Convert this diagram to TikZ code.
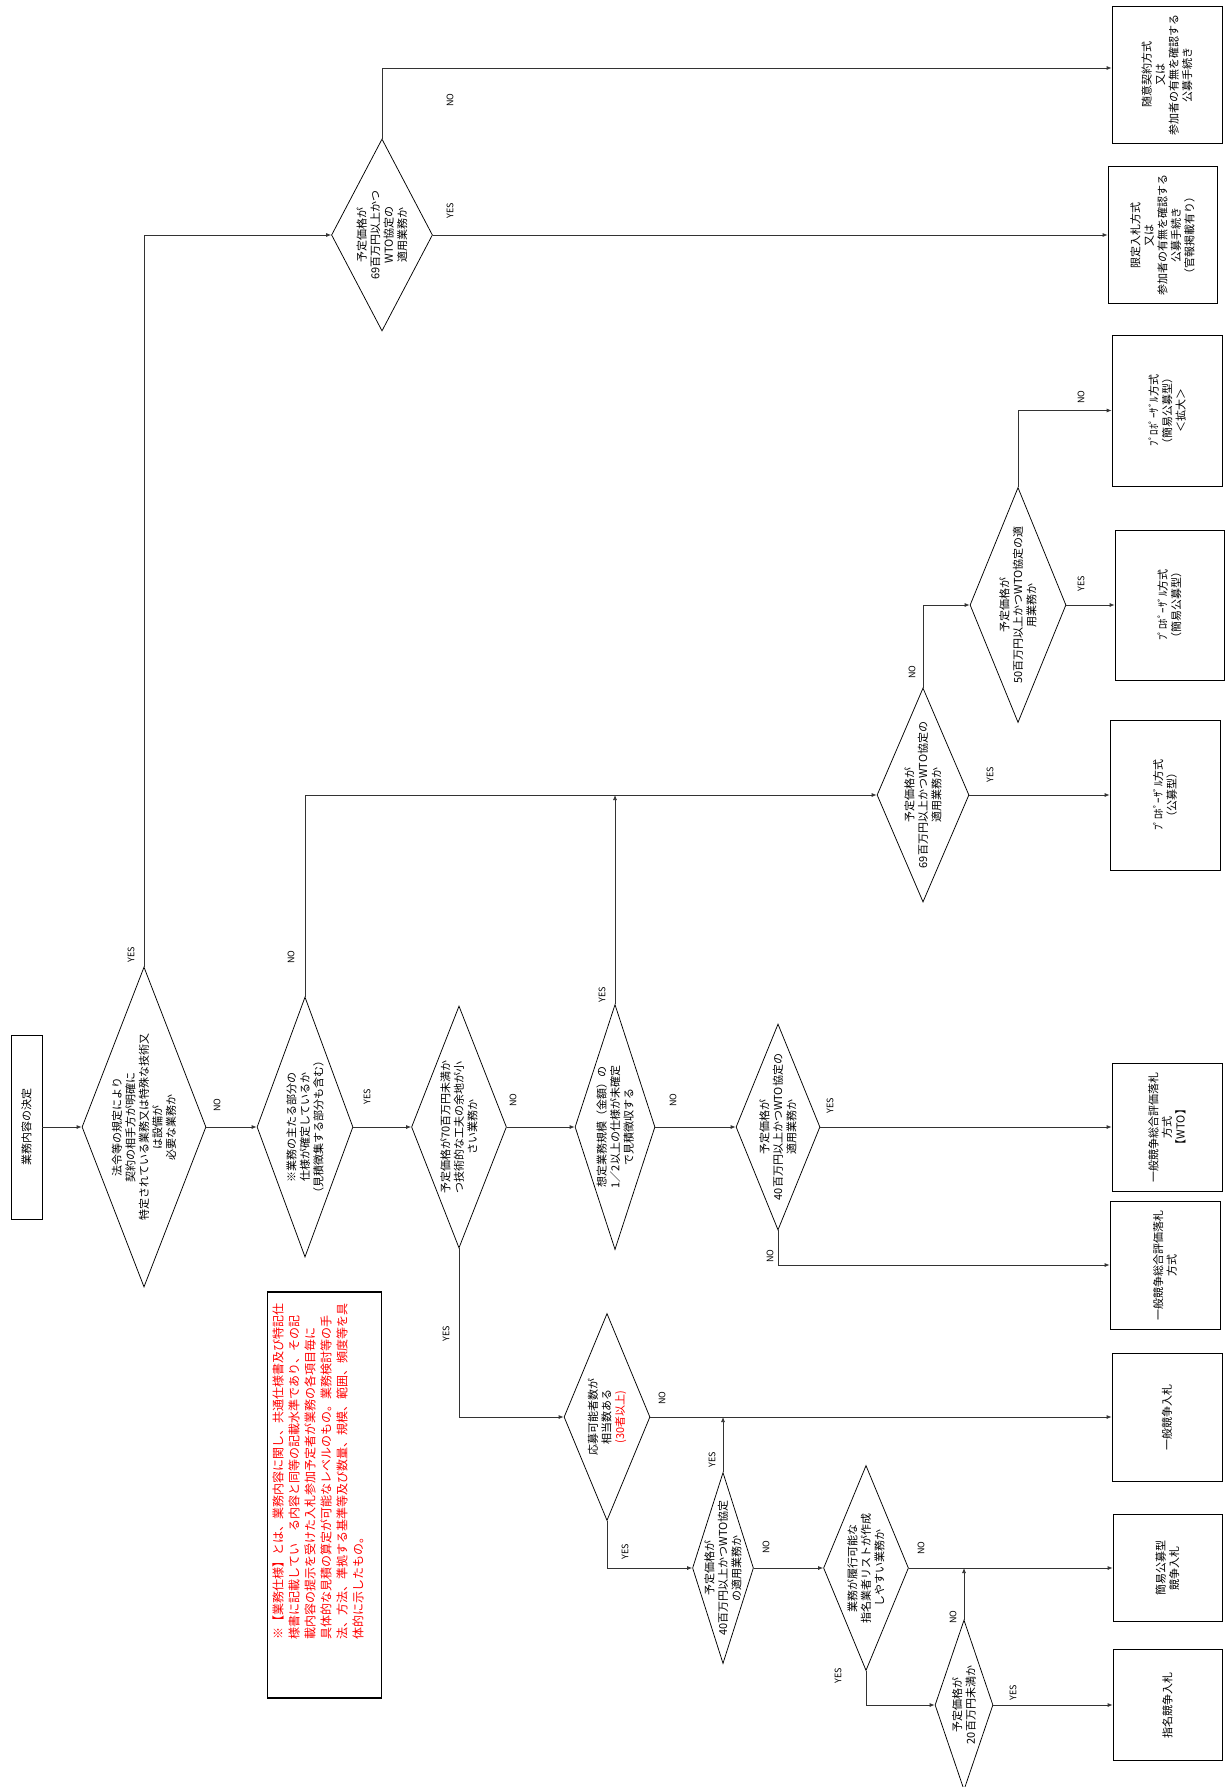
\documentclass[tikz,border=0pt]{standalone}
\usepackage{fontspec}
\setmainfont{Noto Sans CJK JP}
\usetikzlibrary{shapes.geometric,arrows.meta}
\begin{document}
\begin{tikzpicture}[x=1pt,y=-1pt,
  dia/.style={draw, shape=diamond, inner sep=0pt, line width=0.75pt},
  box/.style={draw, rectangle, inner sep=0pt, line width=0.75pt},
  txt/.style={rotate=90, align=center, font=\fontsize{11}{13.5}\selectfont, inner sep=0pt},
  yn/.style={rotate=90, font=\fontsize{9}{10}\selectfont, inner sep=0pt},
  conn/.style={draw=black!80, line width=0.75pt},
  arr/.style={conn, -{Latex[length=5pt,width=4pt]}},
]
\useasboundingbox (0,0) rectangle (1231,1787);

% start box
\node[box, minimum width=31pt, minimum height=184pt] (b0) at (26.5,1127) {};
\node[txt] (b0t) at (b0) {業務内容の決定};

% diamonds
\node[dia, minimum width=124pt, minimum height=320pt] (d1) at (144,1127) {};
\node[txt] (d1t) at (d1) {法令等の規定により\\契約の相手方が明確に\\特定されている業務又は特殊な技術又\\は設備が\\必要な業務か};

\node[dia, minimum width=96pt, minimum height=260pt] (d2) at (305,1127) {};
\node[txt] (d2t) at (d2) {※業務の主たる部分の\\仕様が確定しているか\\（見積徴集する部分も含む）};

\node[dia, minimum width=95pt, minimum height=242pt] (d3) at (459,1127) {};
\node[txt] (d3t) at (d3) {予定価格が70百万円未満か\\つ技術的な工夫の余地が小\\さい業務か};

\node[dia, minimum width=80pt, minimum height=245pt] (d4) at (615,1127) {};
\node[txt] (d4t) at (d4) {想定業務規模（金額）の\\1／2以上の仕様が未確定\\で見積徴収する};

\node[dia, minimum width=84pt, minimum height=206pt] (d5) at (778,1127) {};
\node[txt] (d5t) at (d5) {予定価格が\\40百万円以上かつWTO協定の\\適用業務か};

\node[dia, minimum width=101pt, minimum height=192pt] (d6) at (382,235) {};
\node[txt] (d6t) at (d6) {予定価格が\\69百万円以上かつ\\WTO協定の\\適用業務か};

\node[dia, minimum width=92pt, minimum height=214pt] (d7) at (923,795) {};
\node[txt] (d7t) at (d7) {予定価格が\\69百万円以上かつWTO協定の\\適用業務か};

\node[dia, minimum width=96pt, minimum height=235pt] (d8) at (1018,605) {};
\node[txt] (d8t) at (d8) {予定価格が\\50百万円以上かつWTO協定の適\\用業務か};

\node[dia, minimum width=86pt, minimum height=207pt] (d9) at (607,1417) {};
\node[txt] (d9t) at (d9) {応募可能者数が\\相当数ある\\\textcolor{red}{(30者以上)}};

\node[dia, minimum width=61pt, minimum height=191pt] (d10) at (723,1568) {};
\node[txt] (d10t) at (d10) {予定価格が\\40百万円以上かつWTO協定\\の適用業務か};

\node[dia, minimum width=85pt, minimum height=205pt] (d11) at (866,1568) {};
\node[txt] (d11t) at (d11) {業務が履行可能な\\指名業者リストが作成\\しやすい業務か};

\node[dia, minimum width=58pt, minimum height=170pt] (d12) at (964,1705) {};
\node[txt] (d12t) at (d12) {予定価格が\\20百万円未満か};

% result boxes
\node[box, minimum width=110pt, minimum height=137pt] (b1) at (1167,75) {};
\node[txt] (b1t) at (b1) {随意契約方式\\又は\\参加者の有無を確認する\\公募手続き};
\node[box, minimum width=109pt, minimum height=137pt] (b2) at (1162.5,235) {};
\node[txt] (b2t) at (b2) {限定入札方式\\又は\\参加者の有無を確認する\\公募手続き\\（官報掲載有り）};
\node[box, minimum width=110pt, minimum height=151pt] (b3) at (1167,410.5) {};
\node[txt] (b3t) at (b3) {ﾌﾟﾛﾎﾟｰｻﾞﾙ方式\\（簡易公募型）\\＜拡大＞};
\node[box, minimum width=109pt, minimum height=150pt] (b4) at (1169.5,605) {};
\node[txt] (b4t) at (b4) {ﾌﾟﾛﾎﾟｰｻﾞﾙ方式\\（簡易公募型）};
\node[box, minimum width=110pt, minimum height=150pt] (b5) at (1165,795) {};
\node[txt] (b5t) at (b5) {ﾌﾟﾛﾎﾟｰｻﾞﾙ方式\\（公募型）};
\node[box, minimum width=110pt, minimum height=128pt] (b6) at (1167,1127) {};
\node[txt] (b6t) at (b6) {一般競争総合評価落札\\方式\\【WTO】};
\node[box, minimum width=110pt, minimum height=128pt] (b7) at (1165,1265) {};
\node[txt] (b7t) at (b7) {一般競争総合評価落札\\方式};
\node[box, minimum width=110pt, minimum height=128pt] (b8) at (1167,1417) {};
\node[txt] (b8t) at (b8) {一般競争入札};
\node[box, minimum width=109pt, minimum height=107pt] (b9) at (1167.5,1568) {};
\node[txt] (b9t) at (b9) {簡易公募型\\競争入札};
\node[box, minimum width=109pt, minimum height=111pt] (b10) at (1167.5,1705) {};
\node[txt] (b10t) at (b10) {指名競争入札};

% note
\node[draw, line width=1.5pt, minimum width=114pt, minimum height=406pt, inner sep=0pt] (nb) at (324.5,1495) {};
\node[rotate=90, align=left, text=red, font=\fontsize{12}{16}\selectfont, inner sep=0pt] (nt) at (318,1471) {※【業務仕様】とは、業務内容に関し、共通仕様書及び特記仕\\様書に記載してい　る内容と同等の記載水準であり、その記\\載内容の提示を受けた入札参加予定者が業務の各項目毎に\\具体的な見積の算定が可能なレベルのもの。業務検討等の手\\法、方法、準拠する基準等及び数量、規模、範囲、頻度等を具\\体的に示したもの。};

% junction coordinates
\coordinate (j1) at (d4.north |- d7.west);
\coordinate (j2) at (d10.north |- d9.east);
\coordinate (j3) at (d12.north |- d11.east);

% connectors
\draw[arr] (b0.east) -- (d1.west);
\draw[arr] (d1.north) |- (d6.west);
\draw[arr] (d1.east) -- (d2.west);
\draw[arr] (d2.east) -- (d3.west);
\draw[arr] (d2.north) |- (d7.west);
\draw[arr] (d3.east) -- (d4.west);
\draw[arr] (d4.north) -- (j1);
\draw[arr] (d4.east) -- (d5.west);
\draw[arr] (d5.east) -- (b6.west);
\draw[arr] (d5.south) |- (b7.west);
\draw[arr] (d6.east) -- (b2.west);
\draw[arr] (d6.north) |- ([yshift=7pt]b1.west);
\draw[arr] (d7.east) -- (b5.west);
\draw[arr] (d7.north) |- (d8.west);
\draw[arr] (d8.east) -- (b4.west);
\draw[arr] (d8.north) |- (b3.west);
\draw[arr] (d3.south) |- (d9.west);
\draw[arr] (d9.east) -- (b8.west);
\draw[arr] (d9.south) |- (d10.west);
\draw[arr] (d10.north) -- (j2);
\draw[arr] (d10.east) -- (d11.west);
\draw[arr] (d11.east) -- (b9.west);
\draw[arr] (d11.south) |- (d12.west);
\draw[arr] (d12.east) -- (b10.west);
\draw[arr] (d12.north) -- (j3);

% labels
\node[yn] (l1) at (131,955) {YES};
\node[yn] (l2) at (217,1105) {NO};
\node[yn] (l3) at (367,1097) {YES};
\node[yn] (l4) at (291,957) {NO};
\node[yn] (l5) at (513,1100) {NO};
\node[yn] (l6) at (602,995) {YES};
\node[yn] (l7) at (673,1100) {NO};
\node[yn] (l8) at (830,1106) {YES};
\node[yn] (l9) at (770,1256) {NO};
\node[yn] (l10) at (450,211) {YES};
\node[yn] (l11) at (450,100) {NO};
\node[yn] (l12) at (990,775) {YES};
\node[yn] (l13) at (912,672) {NO};
\node[yn] (l14) at (1081,584) {YES};
\node[yn] (l15) at (1081,397) {NO};
\node[yn] (l16) at (446,1334) {YES};
\node[yn] (l17) at (662,1398) {NO};
\node[yn] (l18) at (625,1552) {YES};
\node[yn] (l19) at (712,1460) {YES};
\node[yn] (l20) at (766,1547) {NO};
\node[yn] (l21) at (921,1548) {NO};
\node[yn] (l22) at (838,1676) {YES};
\node[yn] (l23) at (1013,1693) {YES};
\node[yn] (l24) at (953,1617) {NO};
\end{tikzpicture}
\end{document}
